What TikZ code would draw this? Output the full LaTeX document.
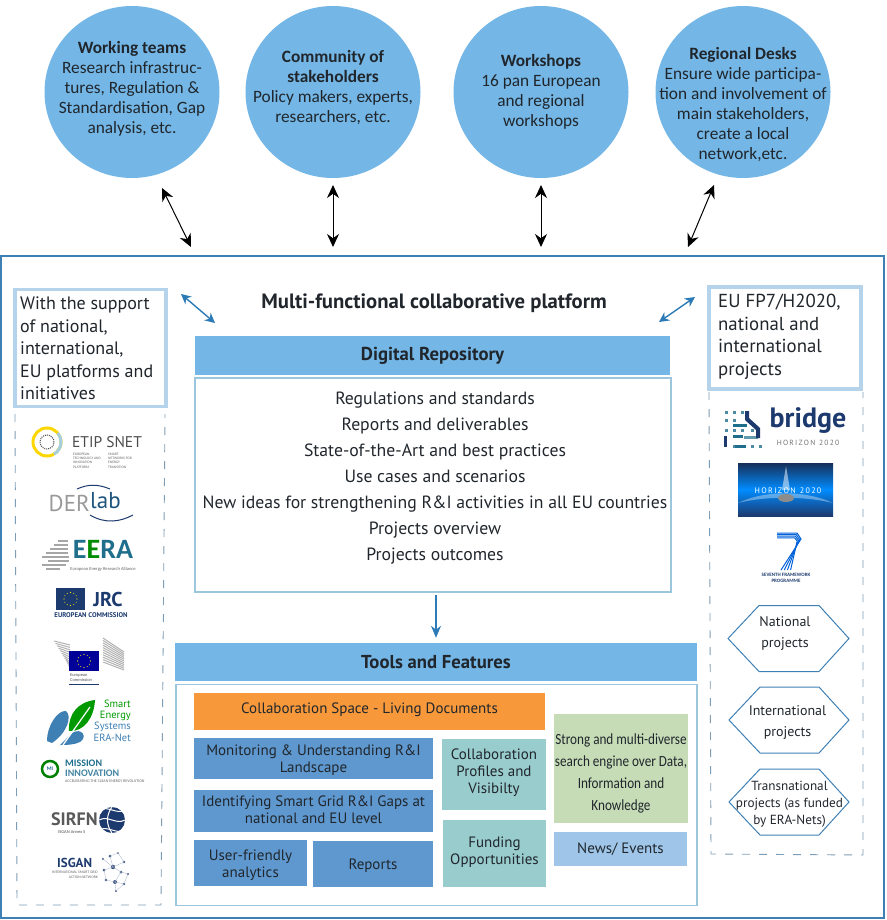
\documentclass[tikz,border=0pt]{standalone}
\usepackage{fontspec}
\setmainfont{Carlito}
\newfontfamily\labelfont{PT Sans}
\newfontfamily\narrowfont[FakeStretch=0.85]{Carlito}
\usetikzlibrary{arrows.meta,shapes}
\definecolor{skyfill}{HTML}{74B7E6}
\definecolor{frameblue}{HTML}{3F80B4}
\definecolor{arrowblue}{HTML}{2C7BB6}
\definecolor{paleframe}{HTML}{B5D3EA}
\definecolor{midframe}{HTML}{9CC6DE}
\definecolor{dashblue}{HTML}{7E9DB6}
\definecolor{tealbox}{HTML}{99CCCD}
\definecolor{bluebox}{HTML}{5F98CF}
\definecolor{greenbox}{HTML}{C6DCB6}
\definecolor{newsbox}{HTML}{9FC6E9}
\definecolor{orangebox}{HTML}{F7993B}
\definecolor{inktext}{HTML}{20262C}
\definecolor{navylogo}{HTML}{1D3A6E}
\definecolor{tealogo}{HTML}{1F6E8C}
\tikzstyle{deskcircle}=[ellipse,fill=skyfill,minimum width=175pt,minimum height=172pt,inner sep=0pt]
\tikzstyle{desktext}=[inner sep=0pt,font=\fontsize{17.3}{20}\selectfont,text=inktext,align=center]
\tikzstyle{headbar}=[fill=skyfill,inner sep=0pt,text=inktext,font=\labelfont\fontsize{18.7}{20}\selectfont\bfseries]
\tikzstyle{featurebox}=[inner sep=0pt]
\tikzstyle{featuretext}=[inner sep=0pt,text=inktext,align=center,font=\labelfont\fontsize{15}{17}\selectfont]
\tikzstyle{sidebox}=[draw=paleframe,line width=3.5pt,fill=white,inner sep=0pt]
\tikzstyle{sidetext}=[inner sep=0pt,anchor=north west,align=left,text=inktext,font=\labelfont\fontsize{18}{22.5}\selectfont]
\tikzstyle{hexline}=[draw=frameblue,line width=1pt]
\tikzstyle{hextext}=[inner sep=0pt,text=inktext,align=center,font=\labelfont\fontsize{14}{21}\selectfont]
\tikzstyle{both}=[{Stealth[length=13pt,width=12pt]}-{Stealth[length=13pt,width=12pt]},line width=1pt,black]
\tikzstyle{bothblue}=[{Stealth[length=10pt,width=10pt]}-{Stealth[length=10pt,width=10pt]},line width=1.4pt,arrowblue]
\tikzstyle{tiny}=[inner sep=0pt,font=\fontsize{3.6}{4.2}\selectfont,text=black!60,align=left]
\tikzstyle{logotext}=[inner sep=0pt]
\tikzstyle{sidedash}=[draw=dashblue,line width=.9pt,dash pattern=on 8pt off 9pt]

\begin{document}
\begin{tikzpicture}[x=1pt,y=-1pt]
    \useasboundingbox (0,0) rectangle (886,920);

    \foreach \x/\y/\name/\txt in {
        132/89/teams/{\textbf{Working teams}\\Research infrastruc-\\tures, Regulation \&\\Standardisation, Gap\\analysis, etc.},
        333/88/community/{\textbf{Community of}\\\textbf{stakeholders}\\Policy makers, experts,\\researchers, etc.},
        541/92/workshops/{\textbf{Workshops}\\16 pan European\\and regional\\workshops},
        743/104.5/desks/{\textbf{Regional Desks}\\Ensure wide participa-\\tion and involvement of\\main stakeholders,\\create a local\\network,etc.}}
    {
        \node[deskcircle] (\name) at (\x,92) {};
        \node[desktext] (\name label) at (\x,\y) {\txt};
    }

    % platform frame
    \node[draw=frameblue,line width=1.2pt,minimum width=883pt,minimum height=662pt,inner sep=0pt] (platform) at (442.5,587) {};
    \node[inner sep=0pt,text=inktext,font=\labelfont\fontsize{20.7}{22}\selectfont\bfseries] (ptitle) at (434,303) {Multi-functional collaborative platform};

    \foreach \name/\x/\y in {a1/162/188, a2/191/247, b1/333/185, b2/333/247, c1/541/185, c2/541/247, d1/714/185, d2/688/247,
                             e1/181/294, e2/215/323, f1/695/297, f2/659/322}
        \coordinate (\name) at (\x,\y);
    \foreach \source/\dest in {a1/a2, b1/b2, c1/c2, d1/d2}
        \draw[both] (\source) -- (\dest);
    \foreach \source/\dest in {e1/e2, f1/f2}
        \draw[bothblue] (\source) -- (\dest);

    % side panels
    \node[sidebox,minimum width=151pt,minimum height=117pt] (leftbox) at (90.5,348) {};
    \node[sidetext] (lefttext) at (20,297) {With the support\\of national,\\international,\\EU platforms and\\initiatives};
    \node[sidebox,minimum width=152pt,minimum height=102pt] (rightbox) at (785,338) {};
    \node[sidetext,font=\labelfont\fontsize{18.8}{22.5}\selectfont] (righttext) at (718,294) {EU FP7/H2020,\\national and\\international\\projects};
    \draw[sidedash] (15,414) -- (17,905) -- (161,905) -- (165,414);
    \draw[sidedash] (709,392) -- (711,854) -- (863,855) -- (863,392);

    % repository
    \node[headbar,minimum width=475pt,minimum height=39pt] (repo) at (432.5,355.5) {Digital Repository};
    \node[draw=midframe,line width=1.6pt,minimum width=476pt,minimum height=214pt,inner sep=0pt] (repobox) at (433,485) {};
    \foreach \y/\name/\txt in {399/r1/Regulations and standards, 425/r2/Reports and deliverables, 451/r3/State-of-the-Art and best practices,
                               477/r4/Use cases and scenarios, 503/r5/New ideas for strengthening R\&I activities in all EU countries,
                               529/r6/Projects overview, 555/r7/Projects outcomes}
        \node[inner sep=0pt,anchor=base,text=inktext,font=\labelfont\fontsize{17.7}{20}\selectfont] (\name) at (435,\y+5) {\txt};
    \node[headbar,minimum width=522pt,minimum height=38pt] (tools) at (436,662) {Tools and Features};
    \draw[-{Stealth[length=12pt,width=10pt]},line width=1.1pt,arrowblue,shorten >=5pt,shorten <=2pt] (repobox.south -| tools.north) -- (tools.north);
    \node[draw=midframe,line width=1.6pt,minimum width=521pt,minimum height=221pt,inner sep=0pt] (toolbox) at (436.5,795) {};

    % feature boxes
    \foreach \x/\y/\w/\h/\dy/\col/\name/\txt in {
        369.5/711.5/351/37/-2/orangebox/collab/{Collaboration Space - Living Documents},
        313.5/758.5/239/41/2/bluebox/monitor/{Monitoring \& Understanding R\&I\\Landscape},
        313.5/811/239/42/-1/bluebox/gaps/{Identifying Smart Grid R\&I Gaps at\\national and EU level},
        250.5/863/113/46/2/bluebox/analytics/{User-friendly\\analytics},
        373/864/120/46/2/bluebox/reports/{Reports},
        494/774.5/104/71/-2/tealbox/profiles/{Collaboration\\Profiles and\\Visibilty},
        494.5/853.5/103/67/-1/tealbox/funding/{Funding\\Opportunities},
        620.5/849/133/34/0/newsbox/news/{News/ Events}}
    {
        \node[featurebox,fill=\col,minimum width=\w pt,minimum height=\h pt] (\name) at (\x,\y) {};
        \node[featuretext] (\name label) at (\x,\y+\dy) {\txt};
    }
    \node[featurebox,fill=greenbox,minimum width=134pt,minimum height=109pt] (search) at (621,768.5) {};
    \node[featuretext,font=\narrowfont\fontsize{15.5}{22}\selectfont] (search label) at (621,773) {Strong and multi-diverse\\search engine over Data,\\Information and\\Knowledge};

    % right column
    \foreach \l/\r/\m/\name in {728/849/638.5/national, 729/849/720/internat, 729/849/802/transnat}
    {
        \draw[hexline] (\l,\m) -- (\l+31,\m-33) -- (\r-30,\m-33) -- (\r,\m) -- (\r-30,\m+33) -- (\l+31,\m+33) -- cycle;
    }
    \node[hextext] (national label) at (785,633.5) {National\\projects};
    \node[hextext] (internat label) at (787.5,722.5) {International\\projects};
    \node[hextext,font=\labelfont\fontsize{13.2}{17}\selectfont] (transnat label) at (789.5,804) {Transnational\\projects (as funded\\by ERA-Nets)};

    % bridge
    \node[logotext,text=navylogo,font=\labelfont\fontsize{28}{30}\selectfont\bfseries] (bridgetxt) at (808,421) {bridge};
    \node[logotext,text=black!55,font=\labelfont\fontsize{7.5}{8}\selectfont] (bridgesub) at (808,443) {H\,O\,R\,I\,Z\,O\,N\,\,\,2\,0\,2\,0};
    \foreach \x/\y in {725/411, 733/411, 725/419, 733/419, 725/429, 733/429, 741/429, 733/445, 751/445, 759/445, 741/411, 751/429}
        \fill[tealogo!80] (\x,\y) rectangle ++(2.5,2.5);
    \foreach \x/\y/\w/\h/\col in {733/424/14/3/tealogo, 724/436/3/11/navylogo, 733/435/10/3/tealogo, 735/445/11/3/tealogo, 744/436/14/3/tealogo!70}
        \fill[\col] (\x,\y) rectangle ++(\w,\h);
    \fill[navylogo] (745,411) -- (749,411) -- (749,418) -- (760,428) -- (760,438) -- (756,438) -- (756,430) -- (745,420) -- cycle;
    % horizon
    \shade[top color=navylogo!80!black,bottom color=navylogo,middle color=blue!45!cyan] (738,463) rectangle (833,516);
    \fill[white,opacity=.35] (738,503) .. controls (765,490) and (805,490) .. (833,503) .. controls (805,496) and (765,496) .. (738,503);
    \fill[white,opacity=.5] (786,466) -- (790,490) -- (782,490) -- cycle;
    \fill[black!45] (786,498) ellipse (8pt and 4pt);
    \node[logotext,text=white,font=\labelfont\fontsize{8}{8}\selectfont] (horizon) at (788,491) {H\,O\,R\,I\,Z\,O\,N\,\,\,2\,0\,2\,0};
    % seven
    \foreach \d in {0,1.6,3.2,4.8}
    {
        \draw[line width=1pt,blue!55!cyan!85!black] (777,533+\d) -- (797-\d*.5,533+\d) -- (801-\d*.8,539+\d*.4) -- (781+\d*2,570);
    }
    \node[logotext,text=navylogo,font=\bfseries\fontsize{5}{5.6}\selectfont,align=center] (seventh) at (786,578) {SEVENTH FRAMEWORK\\PROGRAMME};

    % etip snet
    \draw[line width=3pt,yellow!75!orange] (47,442) circle (14pt);
    \draw[line width=3pt,black!30!cyan!40] (47,442) ++(-60:14pt) arc (-60:40:14pt);
    \draw[black!70,densely dotted,line width=1pt] (47,442) circle (7pt);
    \node[logotext,text=black!70,font=\labelfont\fontsize{15.5}{18}\selectfont] (etip) at (107,442) {ETIP SNET};
    \node[tiny,anchor=north west] (etipa) at (73,453) {EUROPEAN\\TECHNOLOGY AND\\INNOVATION\\PLATFORM};
    \node[tiny,anchor=north west] (etipb) at (108,453) {SMART\\NETWORKS FOR\\ENERGY\\TRANSITION};
    % derlab
    \node[logotext,text=black!40,font=\labelfont\fontsize{23}{24}\selectfont,anchor=east] (der) at (90,503) {DER};
    \node[logotext,text=tealogo!50!navylogo,font=\labelfont\fontsize{23}{24}\selectfont,anchor=west] (lab) at (90,501) {lab};
    \draw[line width=1pt,navylogo] (77,489) .. controls (88,484) and (98,484) .. (110,489);
    \draw[line width=1pt,navylogo] (90,515) .. controls (105,524) and (120,522) .. (133,515);
    % eera
    \node[logotext,text=tealogo,font=\fontsize{28}{28}\selectfont\bfseries] (eera) at (103,549) {E\textcolor{green!55!black}{E}RA};
    \foreach \y/\a/\b in {541/58/68, 545/54/68, 549/50/68, 553/46/68, 557/42/69, 561/48/69, 565/42/66, 569/46/60}
        \draw[line width=2pt,black!35] (\a,\y) -- (\b,\y);
    \node[tiny,font=\fontsize{4.6}{5}\selectfont] (eerasub) at (103,569) {European Energy Research Alliance};
    % jrc
    \fill[navylogo] (56,588) rectangle (85,610);
    \foreach \a in {0,30,...,330}
        \fill[yellow] (70.5,599) ++(\a:6.5pt) circle (.6pt);
    \node[logotext,text=navylogo,font=\labelfont\fontsize{20}{21}\selectfont\bfseries] (jrc) at (108,599) {JRC};
    \node[logotext,text=navylogo,font=\labelfont\fontsize{6.8}{7}\selectfont\bfseries] (jrcsub) at (91,615) {EUROPEAN COMMISSION};
    % commission
    \foreach \d in {0,3,...,30}
        \draw[line width=1pt,black!30] (54+\d*.5,641+\d*.8) -- (70,645+\d*.8);
    \foreach \d in {0,3,...,30}
        \draw[line width=1pt,black!30] (103,638+\d*.8) -- (124,652+\d*.6);
    \fill[blue!60!black] (69,651) rectangle (99,671);
    \foreach \a in {0,30,...,330}
        \fill[yellow] (84,661) ++(\a:6.5pt) circle (.6pt);
    \node[tiny,text=black!70,font=\fontsize{4.4}{5}\selectfont,anchor=north west] (ecname) at (70,673) {European\\Commission};
    \draw[line width=1pt,navylogo] (69,684) -- (99,684);
    % smart energy
    \fill[green!60!black] (69,731) .. controls (68,714) and (78,702) .. (95,700) .. controls (94,718) and (84,732) .. (69,731) -- cycle;
    \fill[frameblue] (47,741) .. controls (47,725) and (58,710) .. (66,711) .. controls (72,716) and (68,732) .. (52,743) -- cycle;
    \fill[frameblue] (60,745) -- (72,733) .. controls (82,727) and (88,737) .. (80,742) .. controls (74,745) and (66,745) .. (60,745) -- cycle;
    \draw[white,line width=1.2pt] (63,745) -- (90,707);
    \foreach \y/\col/\name/\txt in {704/green!60!black/s1/Smart, 716/green!60!black/s2/Energy, 727/frameblue/s3/Systems, 738/frameblue/s4/ERA-Net}
        \node[logotext,text=\col,anchor=east,font=\labelfont\fontsize{10.5}{11}\selectfont] (\name) at (131,\y) {\txt};
    % mission innovation
    \draw[line width=2.5pt,green!50!black] (50,769) circle (8pt);
    \node[logotext,text=tealogo,font=\fontsize{5.5}{6}\selectfont\bfseries] (mi) at (50,769) {MI};
    \node[logotext,text=tealogo,anchor=west,font=\fontsize{10}{10}\selectfont\bfseries] (mission) at (65,763) {MISSION};
    \node[logotext,text=cyan!60!black,anchor=west,font=\fontsize{10}{10}\selectfont\bfseries] (innov) at (65,773) {INNOVATION};
    \node[tiny,anchor=west,font=\fontsize{4}{4}\selectfont] (innovsub) at (65,781) {ACCELERATING THE CLEAN ENERGY REVOLUTION};
    % sirfn
    \node[logotext,text=black!65,anchor=west,font=\labelfont\fontsize{18}{18}\selectfont\bfseries] (sirfn) at (51,819) {SIRFN};
    \fill[navylogo] (112,820) circle (13pt);
    \foreach \a in {-40,0,40}
        \draw[white,line width=1pt] (99,820+\a*.25) .. controls (108,815+\a*.25) and (116,825+\a*.25) .. (125,820+\a*.25);
    \draw[white,line width=1pt] (112,807) .. controls (106,815) and (106,825) .. (112,833);
    \node[tiny,anchor=west,font=\fontsize{4.5}{5}\selectfont,text=black!70] (sirfnsub) at (58,832) {ISGAN Annex 5};
    % isgan
    \node[logotext,text=navylogo,anchor=west,font=\labelfont\fontsize{13}{14}\selectfont\bfseries] (isgan) at (57,863) {ISGAN};
    \node[tiny,anchor=east,align=right,font=\fontsize{3.8}{4.6}\selectfont] (isgansub) at (98,875) {INTERNATIONAL SMART GRID\\ACTION NETWORK};
    \foreach \x/\y/\r in {103/859/1.2, 110/856/1.5, 118/853/1, 124/862/1.4, 113/867/2.2, 104/870/1.5, 121/872/1.5, 128/874/1.2, 106/880/1.4, 115/882/2, 124/884/1.4, 116/891/1.2}
        \fill[navylogo!85] (\x,\y) circle (\r pt);
    \draw[navylogo!40,line width=.3pt] (103,859) -- (113,867) -- (124,862) -- (118,853) -- (110,856) -- (113,867) -- (121,872) -- (128,874) -- (124,884) -- (115,882) -- (106,880) -- (104,870) -- (113,867) (115,882) -- (121,872) (115,882) -- (116,891) -- (124,884);
\end{tikzpicture}
\end{document}
